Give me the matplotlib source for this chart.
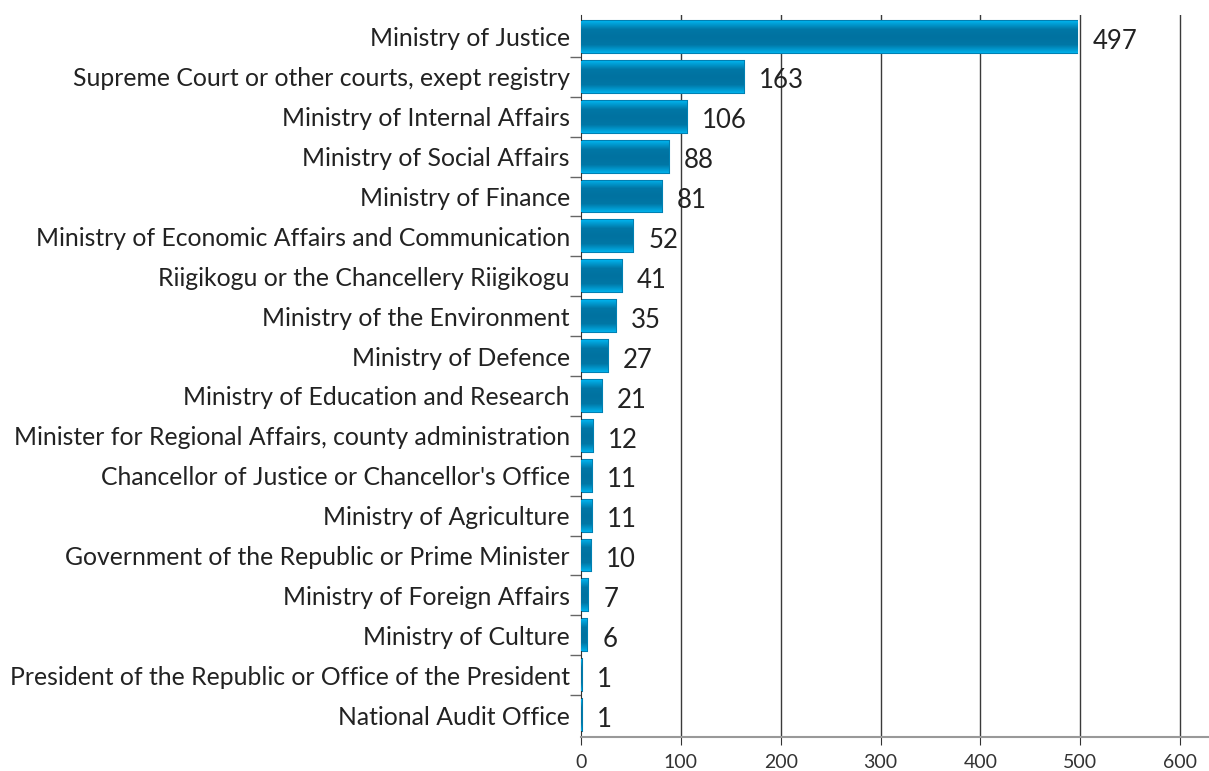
import matplotlib.pyplot as plt
import numpy as np
from matplotlib.colors import LinearSegmentedColormap

labels = ["Ministry of Justice",
          "Supreme Court or other courts, exept registry",
          "Ministry of Internal Affairs",
          "Ministry of Social Affairs",
          "Ministry of Finance",
          "Ministry of Economic Affairs and Communication",
          "Riigikogu or the Chancellery Riigikogu",
          "Ministry of the Environment",
          "Ministry of Defence",
          "Ministry of Education and Research",
          "Minister for Regional Affairs, county administration",
          "Chancellor of Justice or Chancellor's Office",
          "Ministry of Agriculture",
          "Government of the Republic or Prime Minister",
          "Ministry of Foreign Affairs",
          "Ministry of Culture",
          "President of the Republic or Office of the President",
          "National Audit Office"]
values = [497, 163, 106, 88, 81, 52, 41, 35, 27, 21, 12, 11, 11, 10, 7, 6, 1, 1]
xticks = [0, 100, 200, 300, 400, 500, 600]

plt.rcParams['font.family'] = ['Lato', 'DejaVu Sans']

fig = plt.figure(figsize=(12.09, 7.71), dpi=100)
ax = fig.add_axes([581 / 1209, 34 / 771, 628 / 1209, 722 / 771])

y = np.arange(len(values))
bars = ax.barh(y, values, height=0.8, color='#0078a8', edgecolor='#0080b2',
               linewidth=1.5, zorder=2)

# vertical gradient: light edges, dark middle
cmap = LinearSegmentedColormap.from_list('bar', ['#00b0ea', '#0077a6', '#0072a0', '#0077a6', '#00b0ea'])
grad = np.linspace(0, 1, 64).reshape(-1, 1)
for b in bars:
    x0, y0 = b.get_x(), b.get_y()
    im = ax.imshow(grad, cmap=cmap, aspect='auto', zorder=3,
                   extent=[x0, x0 + b.get_width(), y0 + b.get_height(), y0])
    im.set_clip_path(b)

for i, v in enumerate(values):
    ax.annotate(str(v), (v, i), xytext=(11, -3), textcoords='offset points',
                va='center', ha='left', fontsize=18.5, color='#222222')

ax.set_xlim(0, 629)
ax.set_ylim(len(values) - 0.45, -0.55)
ax.set_aspect('auto')

ax.set_yticks(y)
ax.set_yticklabels(labels, fontsize=17.8, color='#222222')
ax.tick_params(axis='y', which='major', length=0, pad=8)
ax.set_yticks(y[:-1] + 0.5, minor=True)
ax.tick_params(axis='y', which='minor', length=8, color='#666666', width=1)

ax.set_xticks(xticks)
ax.tick_params(axis='x', labelsize=14, labelcolor='#333333', length=6, color='#333333', pad=6)
for x in xticks[1:]:
    ax.axvline(x, color='#3a3a3a', lw=1, zorder=1)

ax.spines['top'].set_visible(False)
ax.spines['right'].set_visible(False)
ax.spines['left'].set_color('#333333')
ax.spines['bottom'].set_color('#999999')
ax.spines['bottom'].set_linewidth(1.5)

fig.savefig('out.png', dpi=100)
